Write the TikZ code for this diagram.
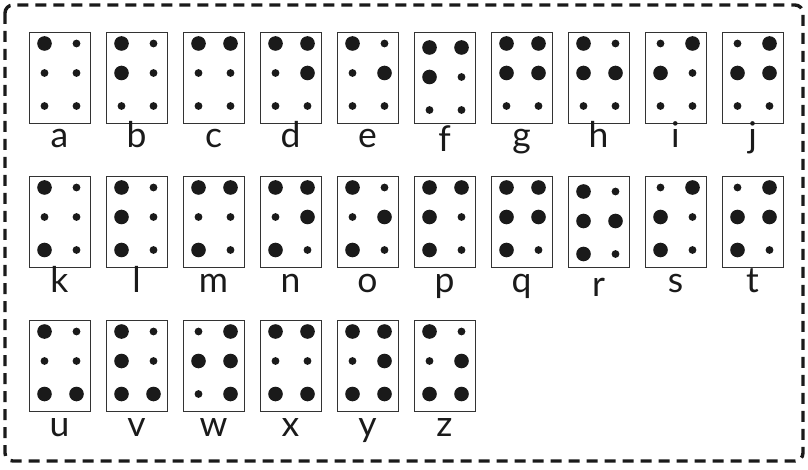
\documentclass[tikz,border=0pt]{standalone}
\usepackage{fontspec}
\setmainfont{Lato}
\definecolor{ink}{HTML}{1A1A1A}
\newcommand\bdot[3]{\ifnum#3=1 \fill[ink] ({#1},{#2}) circle (7.3pt);\else \fill[ink] ({#1},{#2}) circle (3.9pt);\fi}
\def\brpat#1#2#3#4#5#6\relax{%
 \bdot{\bx+15.5}{\by+11.5+\bdy}{#1}%
 \bdot{\bx+15.5}{\by+41+\bdy}{#2}%
 \bdot{\bx+15.5}{\by+74+\bdy}{#3}%
 \bdot{\bx+47.5}{\by+11.5+\bdy}{#4}%
 \bdot{\bx+47.5}{\by+41+\bdy}{#5}%
 \bdot{\bx+47.5}{\by+74+\bdy}{#6}}
\newcommand\brl[5]{%
 \node[cell] (c#1) at (#2,#3) {};
 \def\bx{#2}\def\by{#3}\def\bdy{#5}%
 \brpat#4\relax
 \node[lab] (l#1) at ({#2+30.5},{#3+116+#5}) {#1};}
\begin{document}
\begin{tikzpicture}[x=1pt,y=-1pt,
 cell/.style={draw=black!80, line width=1.2pt, minimum width=61pt, minimum height=91pt, inner sep=0pt, anchor=north west, fill=white},
 lab/.style={font=\fontsize{35.5}{35.5}\selectfont, text=ink, anchor=base, inner sep=0pt},
 frame/.style={draw=ink, line width=3.4pt, dash pattern=on 11pt off 7pt, rounded corners=8pt}]
\useasboundingbox (0,0) rectangle (808,470);
\draw[frame] (5,5) rectangle (803,461);
% row 1
\brl{a}{29}{32}{100000}{0}
\brl{b}{106}{32}{110000}{0}
\brl{c}{183}{32}{100100}{0}
\brl{d}{260}{32}{100110}{0}
\brl{e}{337}{32}{100010}{0}
\brl{f}{414}{32}{110100}{4}
\brl{g}{491}{32}{110110}{0}
\brl{h}{568}{32}{110010}{0}
\brl{i}{645}{32}{010100}{0}
\brl{j}{722}{32}{010110}{0}
% row 2
\brl{k}{29}{176}{101000}{0}
\brl{l}{106}{176}{111000}{0}
\brl{m}{183}{176}{101100}{0}
\brl{n}{260}{176}{101110}{0}
\brl{o}{337}{176}{101010}{0}
\brl{p}{414}{176}{111100}{0}
\brl{q}{491}{176}{111110}{0}
\brl{r}{568}{176}{111010}{4}
\brl{s}{645}{176}{011100}{0}
\brl{t}{722}{176}{011110}{0}
% row 3
\brl{u}{29}{320}{101001}{0}
\brl{v}{106}{320}{111001}{0}
\brl{w}{183}{320}{010111}{0}
\brl{x}{260}{320}{101101}{0}
\brl{y}{337}{320}{101111}{0}
\brl{z}{414}{320}{101011}{0}
\end{tikzpicture}
\end{document}
